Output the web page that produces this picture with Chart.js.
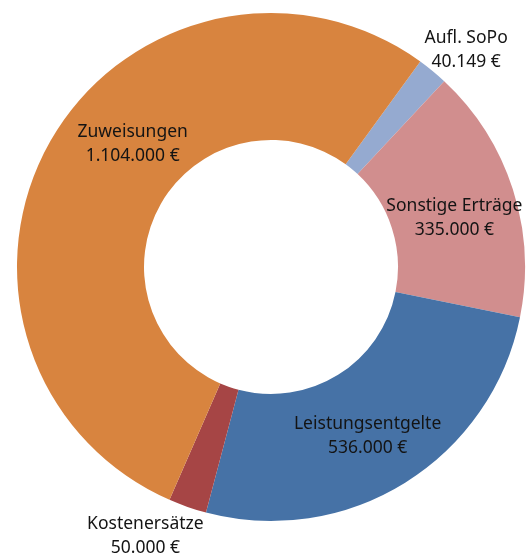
<!DOCTYPE html>
<html><head><meta charset="utf-8">
<script src="https://cdn.jsdelivr.net/npm/chart.js@4"></script>
<style>html,body{margin:0;padding:0;background:#fff;overflow:hidden}#wrap{width:526px;height:553px;position:relative}</style>
</head><body><div id="wrap"><canvas id="c"></canvas></div>
<script>
const categories = ['Aufl. SoPo', 'Sonstige Erträge', 'Leistungsentgelte', 'Kostenersätze', 'Zuweisungen'];
const values = [40149, 335000, 536000, 50000, 1104000];
const colors = ['#95AAD0', '#D18E8E', '#4672A6', '#A64545', '#D8843F'];

function formatEuro(v) {
  return String(v).replace(/\B(?=(\d{3})+(?!\d))/g, '.') + ' €';
}

// label placement relative to the arc's mid point (px)
const labelOffsets = [[74, -70], [2, 9], [-4, 7], [-63, 89], [27, -28]];

const labelPlugin = {
  id: 'labels',
  afterDatasetsDraw(chart) {
    const ctx = chart.ctx;
    const meta = chart.getDatasetMeta(0);
    ctx.save();
    ctx.font = '17.5px "Noto Sans", sans-serif';
    ctx.fillStyle = '#141414';
    ctx.textAlign = 'center';
    ctx.textBaseline = 'middle';
    meta.data.forEach((arc, i) => {
      const p = arc.tooltipPosition();
      const x = p.x + labelOffsets[i][0];
      const y = p.y + labelOffsets[i][1];
      ctx.fillText(categories[i], x, y - 12);
      ctx.fillText(formatEuro(values[i]), x, y + 12);
    });
    ctx.restore();
  }
};

new Chart(document.getElementById('c'), {
  type: 'doughnut',
  data: {
    labels: categories,
    datasets: [{
      data: values,
      backgroundColor: colors,
      borderWidth: 0,
      hoverOffset: 0
    }]
  },
  options: {
    responsive: true,
    maintainAspectRatio: false,
    animation: false,
    cutout: '50%',
    rotation: 36,
    layout: { padding: { left: 17, top: 13, right: 1, bottom: 32 } },
    plugins: { legend: { display: false }, tooltip: { enabled: false } }
  },
  plugins: [labelPlugin]
});
</script>
</body></html>
